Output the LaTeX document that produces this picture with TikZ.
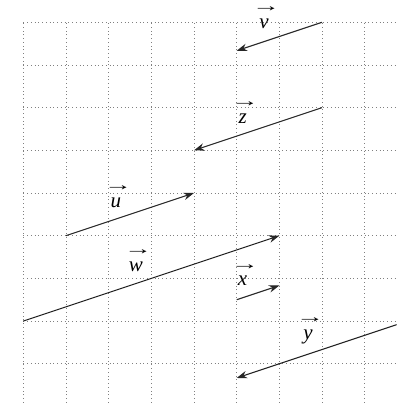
\documentclass[tikz,border=0pt]{standalone}
\usepackage{fontspec}
\setmainfont{Liberation Serif}
\usetikzlibrary{arrows.meta}
\tikzset{
  griddot/.style={draw=black!50, dotted, line width=0.5pt},
  vec/.style={draw=black!85, line width=0.7pt, -{Stealth[length=7pt,width=5pt]}},
  veclabel/.style={inner sep=0pt, align=center, font=\fontsize{14}{14}\selectfont}
}
\newcommand{\vlab}[1]{{\fontsize{11}{11}\selectfont\hspace*{3pt}\scalebox{1.7}[1]{→}}\\[-3pt]\textit{#1}}
\begin{document}
\begin{tikzpicture}
\useasboundingbox (-0.545,0.522) rectangle (8.75,-8.99);
\clip (-0.545,0.522) rectangle (8.75,-8.99);
\draw[griddot] (0,-9) grid (9,0);
% coordinates
\coordinate (vs) at (7,0);      \coordinate (ve) at (5,-0.6667);
\coordinate (zs) at (7,-2);     \coordinate (ze) at (4,-3);
\coordinate (us) at (1,-5);     \coordinate (ue) at (4,-4);
\coordinate (ws) at (0,-7);     \coordinate (we) at (6,-5);
\coordinate (xs) at (5,-6.5);   \coordinate (xe) at (6,-6.1667);
\coordinate (ys) at (9,-7);     \coordinate (ye) at (5,-8.3333);
\draw[vec] (vs) -- (ve);
\draw[vec] (zs) -- (ze);
\draw[vec] (us) -- (ue);
\draw[vec] (ws) -- (we);
\draw[vec] (xs) -- (xe);
\draw[vec] (ys) -- (ye);
% labels
\node[veclabel] (lv) at (5.64,0.10) {\vlab{v}};
\node[veclabel] (lz) at (5.14,-2.12) {\vlab{z}};
\node[veclabel] (lu) at (2.17,-4.09) {\vlab{u}};
\node[veclabel] (lw) at (2.64,-5.59) {\vlab{w}};
\node[veclabel] (lx) at (5.14,-5.92) {\vlab{x}};
\node[veclabel] (ly) at (6.67,-7.23) {\vlab{y}};
\end{tikzpicture}
\end{document}
